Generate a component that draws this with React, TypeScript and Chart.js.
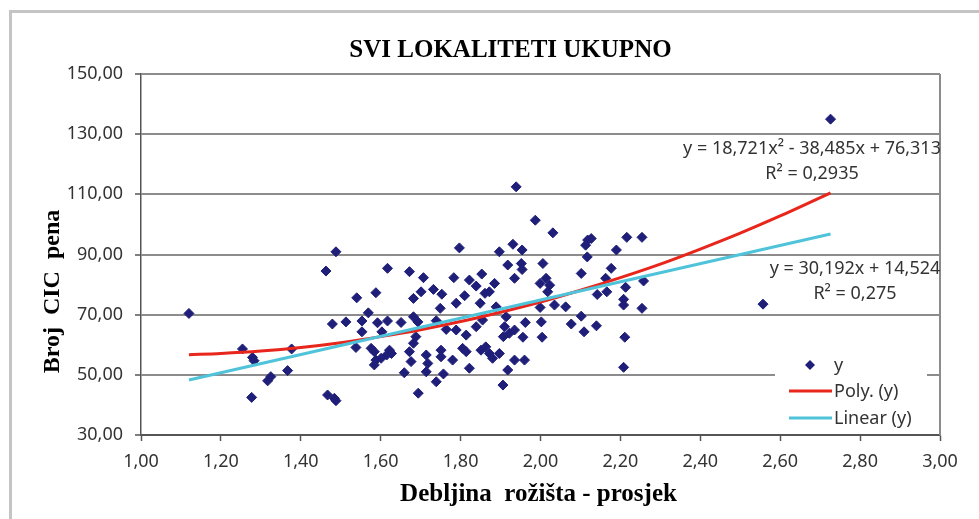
import { useEffect, useRef } from 'react';
import { Chart, registerables } from 'chart.js';

Chart.register(...registerables);

const TITLE = 'SVI LOKALITETI UKUPNO';
const X_TITLE = 'Debljina  rožišta - prosjek';
const Y_TITLE = 'Broj  CIC  pena';

const X_MIN = 1;
const X_MAX = 3;
const X_STEP = 0.2;
const Y_MIN = 30;
const Y_MAX = 150;
const Y_STEP = 20;

const POINT_X = [
  1.12, 1.488, 1.463, 1.479, 1.254, 1.279, 1.283, 1.377, 1.367, 1.325, 1.317, 1.277, 1.467, 1.488,
  1.939, 1.797, 1.897, 1.931, 1.918, 1.935, 1.617, 1.672, 1.707, 1.783, 1.822, 1.853, 1.839, 1.885,
  1.872, 1.861, 1.54, 1.588, 1.682, 1.701, 1.732, 1.753, 1.81, 1.789, 1.849, 1.749, 1.569, 1.513,
  1.553, 1.592, 1.617, 1.651, 1.682, 1.693, 1.739, 1.553, 1.603, 1.764, 1.789, 1.814, 1.839, 1.855,
  1.889, 1.914, 1.91, 1.922, 1.935, 1.688, 1.682, 1.538, 1.576, 1.584, 1.622, 1.627, 1.615, 1.601,
  1.588, 1.584, 1.672, 1.676, 1.714, 1.718, 1.751, 1.751, 1.78, 1.805, 1.814, 1.822, 1.851, 1.863,
  1.872, 1.88, 1.897, 1.907, 1.935, 1.918, 1.906, 1.659, 1.714, 1.739, 1.757, 1.694, 1.484,
  1.987, 2.031, 1.954, 1.952, 1.954, 2.006, 1.999, 2.014, 2.023, 2.018, 2.118, 2.127, 2.113, 2.117,
  2.102, 2.19, 2.216, 2.254, 2.177, 2.163, 2.166, 2.142, 2.213, 2.258, 2.208, 2.208, 2.254, 2.035,
  2.063, 1.999, 2.102, 2.077, 2.109, 2.14, 2.002, 1.962, 1.956, 2.004, 2.211, 1.96, 2.208,
  2.726, 2.557,
];
const POINT_Y = [
  70.4, 90.9, 84.5, 66.9, 58.6, 55.8, 54.7, 58.6, 51.4, 49.4, 48.0, 42.5, 43.3, 41.4,
  112.5, 92.2, 90.9, 93.4, 86.5, 82.1, 85.4, 84.3, 82.3, 82.3, 81.5, 83.5, 79.5, 80.4,
  77.6, 77.1, 75.6, 77.3, 75.4, 77.6, 78.4, 76.8, 76.3, 73.8, 73.8, 72.1, 70.6, 67.6,
  67.9, 67.3, 67.9, 67.4, 69.3, 67.6, 68.0, 64.3, 64.3, 65.1, 64.9, 63.2, 66.0, 68.2,
  72.6, 69.3, 66.0, 63.8, 64.9, 62.7, 60.5, 59.1, 58.8, 57.7, 58.2, 57.1, 56.6, 55.5,
  54.9, 53.3, 57.7, 54.4, 56.6, 53.8, 58.2, 56.0, 54.9, 58.8, 57.7, 52.2, 58.2, 59.3,
  57.1, 55.5, 57.1, 62.7, 54.9, 51.6, 46.6, 50.7, 51.0, 47.7, 50.3, 43.9, 42.2,
  101.4, 97.2, 91.5, 87.0, 85.0, 87.0, 80.4, 82.1, 79.8, 77.6, 94.8, 95.3, 93.1, 89.2,
  83.7, 91.5, 95.7, 95.7, 85.4, 82.1, 77.6, 76.7, 79.1, 81.2, 75.1, 73.2, 72.1, 73.2,
  72.6, 72.4, 69.5, 66.9, 64.3, 66.3, 67.6, 67.4, 62.5, 62.5, 62.5, 54.9, 52.5,
  135.0, 73.5,
];

const POLY_X = [1.12, 1.2, 1.3, 1.4, 1.5, 1.6, 1.7, 1.8, 1.9, 2.0, 2.1, 2.2, 2.3, 2.4, 2.5, 2.6, 2.726];
const POLY_Y = [56.7, 57.1, 57.9, 59.1, 60.7, 62.7, 65.0, 67.7, 70.8, 74.2, 78.1, 82.3, 86.8, 91.8, 97.1, 102.8, 110.5];

const LINEAR_X = [1.12, 2.726];
const LINEAR_Y = [48.3, 96.8];

const POLY_EQUATION = ['y = 18,721x² - 38,485x + 76,313', 'R² = 0,2935'];
const LINEAR_EQUATION = ['y = 30,192x + 14,524', 'R² = 0,275'];
const LEGEND_LABELS = ['y', 'Poly. (y)', 'Linear (y)'];

const POINT_COLOR = '#1f1f7a';
const POLY_COLOR = '#e8261c';
const LINEAR_COLOR = '#4fc3da';
const GRID_COLOR = '#8c8c8c';
const AXIS_COLOR = '#555555';
const TEXT_COLOR = '#333333';
const SANS = '"Noto Sans", sans-serif';
const SERIF = '"Liberation Serif", "Times New Roman", serif';

const fmt = (v: number) => Number(v).toFixed(2).replace('.', ',');

const decor = {
  id: 'decor',
  beforeDraw(chart: any) {
    const { ctx, width, height } = chart;
    ctx.save();
    ctx.fillStyle = '#ffffff';
    ctx.fillRect(0, 0, width, height);
    ctx.strokeStyle = '#c4c4c4';
    ctx.lineWidth = 3;
    ctx.beginPath();
    ctx.moveTo(10.5, height);
    ctx.lineTo(10.5, 11.5);
    ctx.lineTo(width, 11.5);
    ctx.stroke();
    ctx.restore();
  },
  beforeDatasetsDraw(chart: any) {
    const { ctx, chartArea } = chart;
    ctx.save();
    ctx.strokeStyle = GRID_COLOR;
    ctx.lineWidth = 2;
    ctx.beginPath();
    ctx.moveTo(chartArea.right, chartArea.top);
    ctx.lineTo(chartArea.right, chartArea.bottom);
    ctx.stroke();
    ctx.restore();
  },
  afterDatasetsDraw(chart: any) {
    const { ctx, chartArea } = chart;
    const { top, right } = chartArea;
    ctx.save();
    ctx.fillStyle = '#ffffff';
    ctx.fillRect(right - 165, top + 281, 152, 77);
    ctx.font = `18px ${SANS}`;
    ctx.textAlign = 'left';
    ctx.textBaseline = 'middle';
    const tx = right - 106;
    const rows = [top + 291, top + 317, top + 344];
    ctx.fillStyle = POINT_COLOR;
    const dx = right - 130;
    ctx.beginPath();
    ctx.moveTo(dx, rows[0] - 5);
    ctx.lineTo(dx + 5, rows[0]);
    ctx.lineTo(dx, rows[0] + 5);
    ctx.lineTo(dx - 5, rows[0]);
    ctx.closePath();
    ctx.fill();
    ctx.lineWidth = 3;
    ctx.strokeStyle = POLY_COLOR;
    ctx.beginPath();
    ctx.moveTo(right - 151, rows[1]);
    ctx.lineTo(right - 108, rows[1]);
    ctx.stroke();
    ctx.strokeStyle = LINEAR_COLOR;
    ctx.beginPath();
    ctx.moveTo(right - 151, rows[2]);
    ctx.lineTo(right - 108, rows[2]);
    ctx.stroke();
    ctx.fillStyle = TEXT_COLOR;
    LEGEND_LABELS.forEach((l, i) => ctx.fillText(l, tx, rows[i] + 1));

    ctx.textAlign = 'center';
    ctx.fillText(POLY_EQUATION[0], right - 128, top + 75);
    ctx.fillText(POLY_EQUATION[1], right - 128, top + 100);
    ctx.fillText(LINEAR_EQUATION[0], right - 85, top + 195);
    ctx.fillText(LINEAR_EQUATION[1], right - 85, top + 220);
    ctx.restore();
  },
  afterDraw(chart: any) {
    const { ctx, chartArea, width } = chart;
    ctx.save();
    ctx.fillStyle = '#000000';
    ctx.textAlign = 'center';
    ctx.textBaseline = 'middle';
    ctx.font = `bold 25px ${SERIF}`;
    ctx.fillText(TITLE, width / 2 + 21, chartArea.top - 23);
    ctx.font = `bold 25px ${SERIF}`;
    ctx.fillText(X_TITLE, (chartArea.left + chartArea.right) / 2 - 2, chartArea.bottom + 60);
    ctx.translate(53, (chartArea.top + chartArea.bottom) / 2 + 37);
    ctx.rotate(-Math.PI / 2);
    ctx.font = `bold 24px ${SERIF}`;
    ctx.fillText(Y_TITLE, 0, 0);
    ctx.restore();
  },
};

export default function App() {
  const ref = useRef<HTMLCanvasElement | null>(null);
  useEffect(() => {
    if (!ref.current) return;
    const chart = new Chart(ref.current, {
      type: 'scatter',
      data: {
        datasets: [
          {
            type: 'line',
            label: LEGEND_LABELS[2],
            data: LINEAR_X.map((x, i) => ({ x, y: LINEAR_Y[i] })),
            borderColor: LINEAR_COLOR,
            borderWidth: 3,
            pointRadius: 0,
            fill: false,
            order: 0,
          },
          {
            type: 'line',
            label: LEGEND_LABELS[1],
            data: POLY_X.map((x, i) => ({ x, y: POLY_Y[i] })),
            borderColor: POLY_COLOR,
            borderWidth: 3,
            pointRadius: 0,
            cubicInterpolationMode: 'monotone',
            fill: false,
            order: 1,
          },
          {
            label: LEGEND_LABELS[0],
            data: POINT_X.map((x, i) => ({ x, y: POINT_Y[i] })),
            pointStyle: 'rectRot',
            pointRadius: 5,
            pointBackgroundColor: POINT_COLOR,
            pointBorderColor: POINT_COLOR,
            pointBorderWidth: 1,
            order: 2,
          },
        ] as any,
      },
      options: {
        animation: false,
        responsive: true,
        maintainAspectRatio: false,
        layout: { padding: { left: 0, top: 74, right: 39, bottom: 0 } },
        plugins: { legend: { display: false }, tooltip: { enabled: false }, title: { display: false } },
        scales: {
          x: {
            type: 'linear',
            min: X_MIN,
            max: X_MAX,
            afterFit: (s: any) => { s.height = 84; },
            ticks: {
              stepSize: X_STEP,
              callback: (v: any) => fmt(v),
              font: { family: SANS, size: 18 },
              color: TEXT_COLOR,
              padding: 10,
              maxRotation: 0,
              autoSkip: false,
            },
            grid: {
              drawOnChartArea: false,
              drawTicks: true,
              tickLength: 6,
              tickColor: AXIS_COLOR,
              tickWidth: 1.5,
            },
            border: { color: AXIS_COLOR, width: 1.5 },
          },
          y: {
            type: 'linear',
            min: Y_MIN,
            max: Y_MAX,
            afterFit: (s: any) => { s.width = 141; },
            ticks: {
              stepSize: Y_STEP,
              callback: (v: any) => fmt(v),
              font: { family: SANS, size: 18 },
              color: TEXT_COLOR,
              padding: 12,
            },
            grid: {
              color: (c: any) => (c.tick && c.tick.value === Y_MIN ? AXIS_COLOR : GRID_COLOR),
              lineWidth: 2,
              tickLength: 6,
              tickColor: AXIS_COLOR,
              tickWidth: 1.5,
            },
            border: { color: AXIS_COLOR, width: 1.5 },
          },
        },
      },
      plugins: [decor],
    });
    return () => chart.destroy();
  }, []);
  return (
    <div style={{ position: 'fixed', left: 0, top: 0, width: 979, height: 519 }}>
      <canvas ref={ref} />
    </div>
  );
}
